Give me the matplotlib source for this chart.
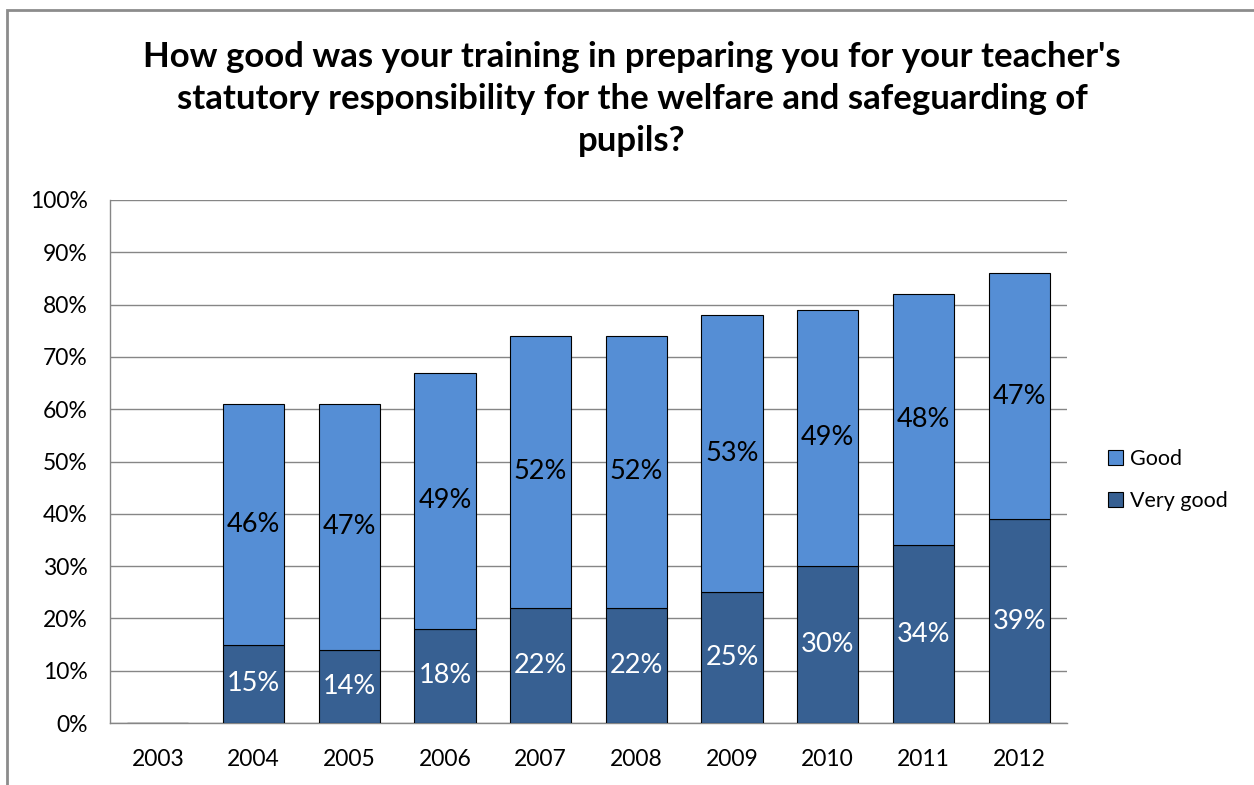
import numpy as np
import matplotlib.pyplot as plt
from matplotlib.patches import Rectangle

plt.rcParams['font.family'] = ['Lato', 'DejaVu Sans']

years = ['2003', '2004', '2005', '2006', '2007', '2008', '2009', '2010', '2011', '2012']
very_good = [0, 15, 14, 18, 22, 22, 25, 30, 34, 39]
good = [0, 46, 47, 49, 52, 52, 53, 49, 48, 47]

c_good = '#558ed5'
c_vgood = '#376092'

fig = plt.figure(figsize=(12.54, 7.85), dpi=100)
ax = fig.add_axes([110 / 1254, 1 - 723 / 785, (1067 - 110) / 1254, (723 - 200) / 785])

# outer chart border (partially cropped)
fig.patches.append(Rectangle((7 / 1254, -0.1), 1.2, (785 - 10) / 785 + 0.1,
                             transform=fig.transFigure, fill=False,
                             edgecolor='#8c8c8c', lw=2))

x = np.arange(len(years))
w = 0.64
ax.bar(x, very_good, w, color=c_vgood, edgecolor='black', lw=0.8, label='Very good', zorder=3)
ax.bar(x, good, w, bottom=very_good, color=c_good, edgecolor='black', lw=0.8, label='Good', zorder=3)

for i in range(len(years)):
    if very_good[i] > 0:
        ax.text(x[i], very_good[i] / 2, f'{very_good[i]}%', ha='center', va='center',
                color='white', fontsize=19.5, zorder=4)
    if good[i] > 0:
        ax.text(x[i], very_good[i] + good[i] / 2, f'{good[i]}%', ha='center', va='center',
                color='black', fontsize=19.5, zorder=4)

ax.set_xlim(-0.5, len(years) - 0.5)
ax.set_ylim(0, 100)
ax.set_yticks(np.arange(0, 101, 10))
ax.set_yticklabels([f'{v}%' for v in range(0, 101, 10)], fontsize=16.5)
ax.set_xticks(x)
ax.set_xticklabels(years, fontsize=16.5)
ax.tick_params(axis='y', length=0, pad=16)
ax.tick_params(axis='x', length=0, pad=19)
ax.yaxis.grid(True, color='#868686', lw=1, zorder=0)
for s in ['top', 'right']:
    ax.spines[s].set_visible(False)
for s in ['left', 'bottom']:
    ax.spines[s].set_color('#868686')
    ax.spines[s].set_linewidth(1)

h, l = ax.get_legend_handles_labels()
fig.legend(h[::-1], l[::-1], loc='center left', bbox_to_anchor=(1089 / 1254, 1 - 480 / 785),
           frameon=False, fontsize=15.5, handlelength=0.7, handleheight=0.7,
           handletextpad=0.3, labelspacing=1.05)

fig.text(632 / 1254, 1 - 99 / 785,
         "How good was your training in preparing you for your teacher's\n"
         "statutory responsibility for the welfare and safeguarding of\npupils?",
         ha='center', va='center', fontsize=25, fontweight='bold', linespacing=1.4)

fig.savefig('out.png', dpi=100, facecolor='white')
